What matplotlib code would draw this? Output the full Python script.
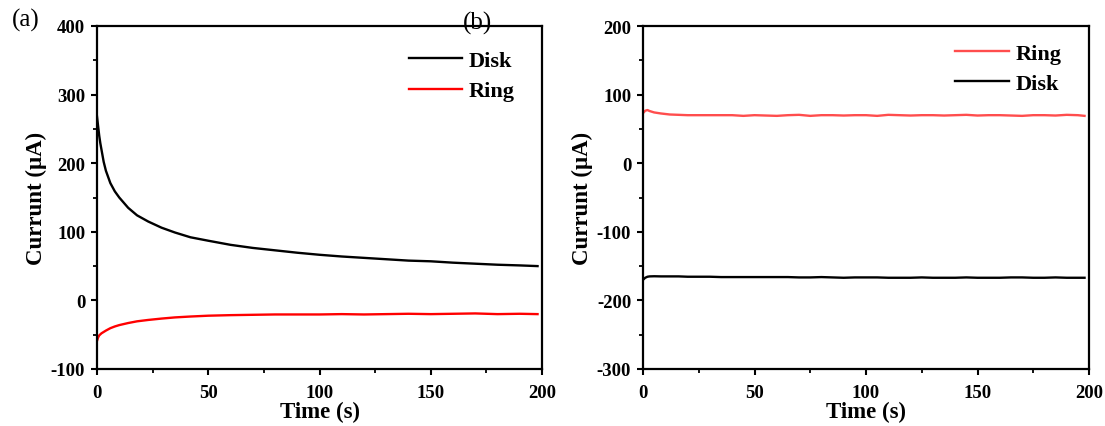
import matplotlib
matplotlib.use("Agg")
import matplotlib.pyplot as plt
from matplotlib.ticker import MultipleLocator

plt.rcParams['font.family'] = ['Liberation Serif', 'DejaVu Serif']
plt.rcParams['font.weight'] = 'bold'
plt.rcParams['axes.unicode_minus'] = False

# ---- Panel (a) data ----
time_a = [0, 0.5, 1, 1.5, 2, 3, 4, 6, 8, 10, 14, 18, 23, 29, 35, 42, 50, 60, 70, 80,
          90, 100, 110, 120, 130, 140, 150, 160, 170, 180, 190, 198]
disk_a = [268, 254, 240, 229, 220, 202, 189, 171, 159, 150, 135, 124, 115, 106, 99, 92,
          87, 81, 76.5, 73, 69.5, 66.5, 64, 62, 60, 58, 57, 55, 53.5, 52, 51, 50]
ring_a = [-59, -54, -51, -49.5, -48, -46, -44, -40.5, -38, -36, -33, -30.5, -28.5, -26.5,
          -24.8, -23.5, -22.3, -21.5, -21, -20.5, -20.5, -20.5, -20, -20.5, -20, -19.5,
          -20, -19.5, -19, -20, -19.5, -20]

# ---- Panel (b) data ----
time_b = [0, 1, 2, 3, 5, 8, 12, 16, 20, 25, 30, 35, 40, 45, 50, 55, 60, 65, 70, 75, 80, 85,
          90, 95, 100, 105, 110, 115, 120, 125, 130, 135, 140, 145, 150, 155, 160, 165,
          170, 175, 180, 185, 190, 195, 198]
ring_b = [73, 76.5, 77.5, 76, 74, 72.5, 71, 70.5, 70, 70, 70, 70, 70, 69, 70, 69.5, 69,
          70, 70.5, 69, 70, 70, 69.5, 70, 70, 69, 70.5, 70, 69.5, 70, 70, 69.5, 70, 70.5,
          69.5, 70, 70, 69.5, 69, 70, 70, 69.5, 70.5, 70, 69]
disk_b = [-170, -167, -165.5, -165, -164.8, -165, -165, -165, -165.5, -165.5, -165.5, -166,
          -166, -166, -166, -166, -166, -166, -166.5, -166.5, -166, -166.5, -167, -166.5,
          -166.5, -166.5, -167, -167, -167, -166.5, -167, -167, -167, -166.5, -167, -167,
          -167, -166.5, -166.5, -167, -167, -166.5, -167, -167, -167]

W, H = 1105, 427
fig = plt.figure(figsize=(W / 100, H / 100), dpi=100)
ax1 = fig.add_axes([97 / W, 57 / H, 445 / W, 343 / H])
ax2 = fig.add_axes([643 / W, 57 / H, 446 / W, 343 / H])

ax1.plot(time_a, disk_a, color='black', lw=1.7, label='Disk')
ax1.plot(time_a, ring_a, color='#FF0000', lw=1.7, label='Ring')
ax2.plot(time_b, ring_b, color='#FF4D4D', lw=1.7, label='Ring')
ax2.plot(time_b, disk_b, color='black', lw=1.7, label='Disk')

ax1.set_ylim(-100, 400)
ax2.set_ylim(-300, 200)

legend_anchor = {ax1: (0.70, 0.928), ax2: (0.70, 0.95)}

for ax in (ax1, ax2):
    ax.set_xlim(0, 200)
    ax.xaxis.set_major_locator(MultipleLocator(50))
    ax.xaxis.set_minor_locator(MultipleLocator(25))
    ax.yaxis.set_major_locator(MultipleLocator(100))
    ax.yaxis.set_minor_locator(MultipleLocator(50))
    ax.tick_params(which='major', direction='out', length=4.5, width=1.5, labelsize=13.5)
    ax.tick_params(axis='x', which='major', pad=6)
    ax.tick_params(axis='y', which='major', pad=4)
    ax.tick_params(which='minor', direction='out', length=3, width=1.3)
    for lab in ax.get_xticklabels() + ax.get_yticklabels():
        lab.set_fontweight('bold')
    for sp in ax.spines.values():
        sp.set_linewidth(1.6)
    ax.set_xlabel('Time (s)', fontsize=16.5, fontweight='bold', labelpad=0)
    ax.set_ylabel('Currunt (μA)', fontsize=16.5, fontweight='bold', labelpad=3)
    ax.legend(loc='upper left', bbox_to_anchor=legend_anchor[ax], frameon=False,
              prop={'size': 16, 'weight': 'bold'}, handlelength=2.4,
              handletextpad=0.3, labelspacing=0.43, borderpad=0, borderaxespad=0)

fig.text(12 / W, 1 - 20 / H, '(a)', fontsize=18, fontweight='normal', va='center', ha='left')
fig.text(477 / W, 1 - 23 / H, '(b)', fontsize=18, fontweight='normal', va='center', ha='center')

fig.savefig('out.png', dpi=100)
